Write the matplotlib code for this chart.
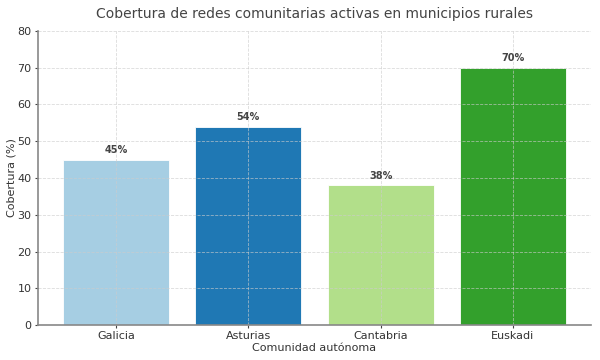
import matplotlib
matplotlib.use("Agg")
import matplotlib.pyplot as plt

regions = ["Galicia", "Asturias", "Cantabria", "Euskadi"]
coverage = [45, 54, 38, 70]
colors = ["#a6cee3", "#1f78b4", "#b2df8a", "#33a02c"]

fig, ax = plt.subplots(figsize=(6, 3.6), dpi=100)
fig.subplots_adjust(left=0.063, right=0.985, top=0.914, bottom=0.097)

bars = ax.bar(regions, coverage, color=colors, width=0.8, edgecolor="white", linewidth=0.6)
for b, v in zip(bars, coverage):
    ax.text(b.get_x() + b.get_width() / 2, v + 1.2, f"{v}%", ha="center", va="bottom",
            fontsize=7, fontweight="bold", color="#444444")

ax.set_ylim(0, 80)
ax.set_title("Cobertura de redes comunitarias activas en municipios rurales",
             fontsize=10, color="#444444", pad=9)
ax.set_xlabel("Comunidad autónoma", fontsize=8, color="#333333", labelpad=1)
ax.set_ylabel("Cobertura (%)", fontsize=8, color="#333333", labelpad=1)
ax.grid(True, linestyle="--", linewidth=0.6, color="#cccccc", alpha=0.7)
for s in ["top", "right"]:
    ax.spines[s].set_visible(False)
for s in ["left", "bottom"]:
    ax.spines[s].set_color("#888888")
    ax.spines[s].set_linewidth(1.2)
ax.tick_params(colors="#444444", labelsize=8, length=2.5, width=0.8, pad=2)
for lbl in ax.get_xticklabels() + ax.get_yticklabels():
    lbl.set_color("#333333")

plt.savefig("out.png")
